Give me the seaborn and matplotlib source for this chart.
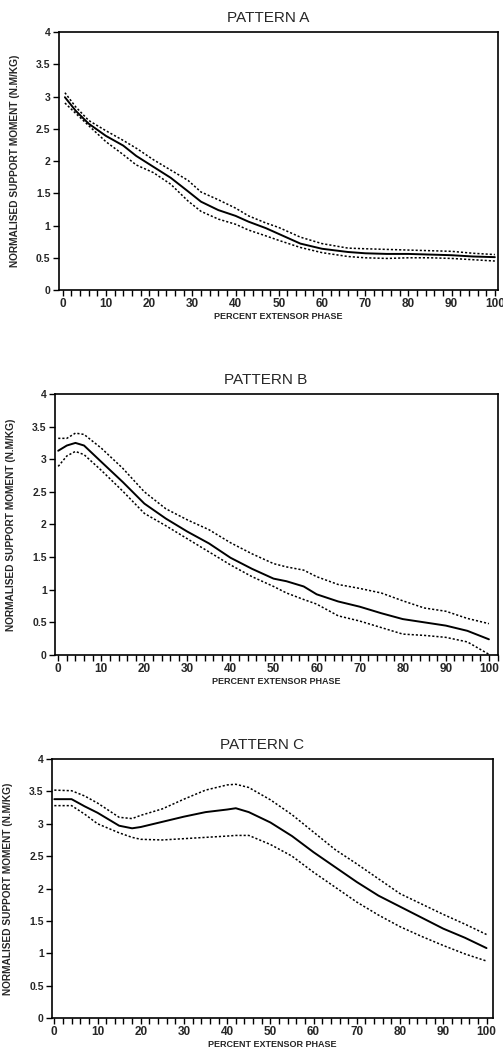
import pandas as pd
import seaborn as sns
import matplotlib.pyplot as plt
from matplotlib.ticker import MultipleLocator

# Pattern A
x_a = [0.5, 3, 6, 10, 14, 17, 21, 25, 29, 32, 36, 40, 43, 47, 50, 55, 60, 66, 70, 75, 80, 85, 90, 95, 100]
mean_a = [2.99, 2.78, 2.58, 2.39, 2.24, 2.08, 1.91, 1.74, 1.53, 1.37, 1.24, 1.15, 1.06, 0.96, 0.87, 0.72,
          0.64, 0.59, 0.57, 0.56, 0.56, 0.55, 0.54, 0.52, 0.51]
upper_a = [3.06, 2.84, 2.63, 2.47, 2.32, 2.20, 2.02, 1.86, 1.70, 1.52, 1.40, 1.27, 1.15, 1.04, 0.97, 0.82,
           0.72, 0.65, 0.64, 0.63, 0.62, 0.61, 0.60, 0.57, 0.55]
lower_a = [2.90, 2.74, 2.55, 2.30, 2.10, 1.94, 1.82, 1.64, 1.38, 1.22, 1.10, 1.02, 0.93, 0.84, 0.77, 0.66,
           0.58, 0.52, 0.50, 0.49, 0.50, 0.50, 0.49, 0.47, 0.45]

# Pattern B
x_b = [0, 2, 4, 6, 10, 15, 20, 25, 30, 35, 40, 45, 50, 53, 57, 60, 65, 70, 75, 80, 85, 90, 95, 100]
mean_b = [3.13, 3.21, 3.25, 3.21, 2.96, 2.65, 2.32, 2.09, 1.89, 1.71, 1.49, 1.32, 1.17, 1.13, 1.05, 0.93,
          0.82, 0.74, 0.64, 0.55, 0.50, 0.45, 0.37, 0.24]
upper_b = [3.32, 3.32, 3.40, 3.38, 3.17, 2.86, 2.50, 2.24, 2.07, 1.92, 1.72, 1.55, 1.40, 1.35, 1.30, 1.20,
           1.08, 1.02, 0.95, 0.83, 0.72, 0.67, 0.56, 0.48]
lower_b = [2.89, 3.05, 3.12, 3.07, 2.83, 2.51, 2.17, 1.98, 1.78, 1.58, 1.38, 1.20, 1.05, 0.95, 0.85, 0.78,
           0.60, 0.52, 0.42, 0.32, 0.30, 0.27, 0.20, 0.01]

# Pattern C
x_c = [0, 4, 7, 10, 15, 18, 20, 25, 30, 35, 40, 42, 45, 50, 55, 60, 65, 70, 75, 80, 85, 90, 95, 100]
mean_c = [3.38, 3.38, 3.27, 3.17, 2.97, 2.93, 2.95, 3.03, 3.11, 3.18, 3.22, 3.24, 3.18, 3.02, 2.81, 2.56,
          2.33, 2.10, 1.89, 1.72, 1.55, 1.38, 1.24, 1.08]
upper_c = [3.52, 3.51, 3.43, 3.32, 3.10, 3.08, 3.13, 3.23, 3.38, 3.52, 3.60, 3.61, 3.56, 3.37, 3.14, 2.87,
           2.60, 2.38, 2.15, 1.92, 1.76, 1.60, 1.45, 1.29]
lower_c = [3.28, 3.28, 3.15, 3.00, 2.86, 2.79, 2.76, 2.75, 2.77, 2.79, 2.81, 2.82, 2.82, 2.68, 2.50, 2.25,
           2.02, 1.79, 1.59, 1.41, 1.26, 1.12, 0.99, 0.88]

titles = ["PATTERN A", "PATTERN B", "PATTERN C"]
y_ticks = [0, 0.5, 1, 1.5, 2, 2.5, 3, 3.5, 4]
y_tick_labels = ["0", "0.5", "1", "1.5", "2", "2.5", "3", "3.5", "4"]

sns.set_style("ticks")
plt.rcParams['font.family'] = ['Liberation Sans', 'DejaVu Sans']

fig = plt.figure(figsize=(5.03, 10.52), dpi=100)

rects = [[0.117, 0.7243, 0.8728, 0.2452],
         [0.1093, 0.3774, 0.8807, 0.2481],
         [0.1034, 0.0323, 0.8767, 0.2462]]
xlims = [(-0.9, 100.7), (-0.75, 102.1), (-0.53, 101.5)]
data = [(x_a, mean_a, upper_a, lower_a),
        (x_b, mean_b, upper_b, lower_b),
        (x_c, mean_c, upper_c, lower_c)]

for title, rect, xlim, (x, m, u, l) in zip(titles, rects, xlims, data):
    ax = fig.add_axes(rect)
    df = pd.DataFrame({
        "x": x * 3,
        "value": m + u + l,
        "series": ["mean"] * len(x) + ["upper"] * len(x) + ["lower"] * len(x),
    })
    sns.lineplot(data=df, x="x", y="value", style="series", size="series",
                 dashes={"mean": "", "upper": (1.4, 1.3), "lower": (1.4, 1.3)},
                 sizes={"mean": 1.4, "upper": 1.1, "lower": 1.1},
                 color="black", legend=False, estimator=None, sort=False, ax=ax)

    ax.set_xlim(*xlim)
    ax.set_ylim(0, 4)
    ax.xaxis.set_major_locator(MultipleLocator(10))
    ax.xaxis.set_minor_locator(MultipleLocator(2))
    ax.set_yticks(y_ticks)
    ax.set_yticklabels(y_tick_labels)
    ax.tick_params(axis="both", which="both", direction="out", length=4, width=1,
                   color="black", pad=2)
    ax.tick_params(axis="x", labelsize=8.5)
    ax.tick_params(axis="y", labelsize=7.5)
    for lab in ax.get_xticklabels() + ax.get_yticklabels():
        lab.set_fontweight("bold")
    for sp in ax.spines.values():
        sp.set_visible(True)
        sp.set_linewidth(1.2)
        sp.set_color("black")

    ax.set_title(title, fontsize=11, x=0.476, pad=7)
    ax.set_xlabel("PERCENT EXTENSOR PHASE", fontsize=6.5, fontweight="bold", labelpad=1)
    ax.set_ylabel("NORMALISED SUPPORT MOMENT (N.M/KG)", fontsize=7.3, fontweight="bold")
    ax.yaxis.set_label_coords(-0.088, 0.5)

fig.savefig("out.png", dpi=100)
